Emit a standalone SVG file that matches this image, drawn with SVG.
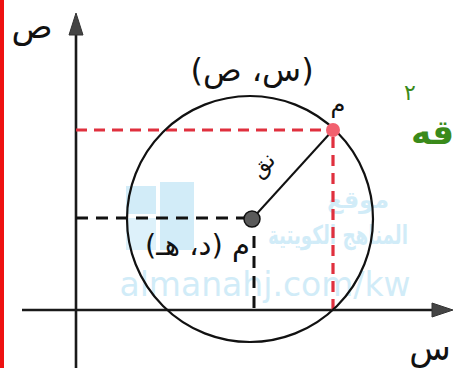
<svg xmlns="http://www.w3.org/2000/svg" width="454" height="368" viewBox="0 0 454 368">
<style>
.ax{stroke:#1a1a1a;stroke-width:2.6;fill:none}
.ah{fill:#444;stroke:#333;stroke-width:1}
.lbl{font-family:"DejaVu Sans","Noto Sans",sans-serif;fill:#111}
.rd{stroke:#e0303e;stroke-width:3.2;stroke-dasharray:11 7;fill:none}
.bd{stroke:#111;stroke-width:3;stroke-dasharray:12 8;fill:none}
.wm{font-family:"DejaVu Sans","Open Sans",sans-serif;fill:#8fd0ee;opacity:0.4}
</style>
<rect width="454" height="368" fill="#fff"/>
<rect x="0" y="0" width="4" height="368" fill="#ee1111"/>
<g id="watermark">
<rect x="126" y="186" width="30" height="28" fill="#8fd0ee" opacity="0.4"/>
<rect x="160" y="182" width="34" height="68" fill="#8fd0ee" opacity="0.4"/>
<rect x="126" y="218" width="30" height="32" fill="#8fd0ee" opacity="0.3"/>
<text class="wm" x="358" y="208" font-size="24" font-weight="bold" text-anchor="middle">موقع</text>
<text class="wm" x="268" y="244" font-size="26" font-weight="bold" textLength="140" lengthAdjust="spacingAndGlyphs">المناهج الكويتية</text>
<text class="wm" x="265" y="296" font-size="33" text-anchor="middle">almanahj.com/kw</text>
</g>
<g id="connectors">
<line class="ax" x1="76" y1="30" x2="76" y2="368"/>
<polygon class="ah" points="76,13 69,35 83,35"/>
<line class="ax" x1="22" y1="310" x2="436" y2="310"/>
<polygon class="ah" points="453,310 432,303 432,317"/>
<line class="rd" x1="76" y1="130" x2="328" y2="130"/>
<line class="rd" x1="333" y1="137" x2="333" y2="310"/>
<line class="bd" x1="76" y1="218" x2="244" y2="218"/>
<line class="bd" x1="254" y1="236" x2="254" y2="310"/>
<line stroke="#111" stroke-width="2" x1="252" y1="219" x2="333" y2="130"/>
</g>
<g id="circle">
<circle cx="250" cy="219" r="123" fill="none" stroke="#111" stroke-width="2.2"/>
</g>
<g id="center">
<circle cx="252" cy="219" r="8" fill="#5a5a5a" stroke="#111" stroke-width="1.5"/>
<text class="lbl" x="250" y="255" font-size="29" direction="rtl" unicode-bidi="embed" text-anchor="start">م (د، هـ)</text>
</g>
<g id="point">
<circle cx="333" cy="130" r="7" fill="#f2606e"/>
<text class="lbl" x="338" y="112" font-size="24" text-anchor="middle">م</text>
<text class="lbl" x="252" y="81" font-size="32" direction="rtl" unicode-bidi="embed" text-anchor="middle">(س، ص)</text>
</g>
<g id="radius-label">
<text class="lbl" x="0" y="0" font-size="22" text-anchor="middle" transform="translate(268,170) rotate(-45)">نق</text>
</g>
<g id="axis-labels">
<text class="lbl" x="32" y="38" font-size="34" text-anchor="middle">ص</text>
<text class="lbl" x="430" y="360" font-size="34" text-anchor="middle">س</text>
</g>
<g id="green-text">
<text x="410" y="100" font-family="DejaVu Sans,sans-serif" font-size="22" fill="#3a8a1a" text-anchor="middle">٢</text>
<text x="454" y="144" font-family="DejaVu Sans,sans-serif" font-size="34" font-weight="bold" fill="#3a8a1a" text-anchor="end">قه</text>
</g>
</svg>
